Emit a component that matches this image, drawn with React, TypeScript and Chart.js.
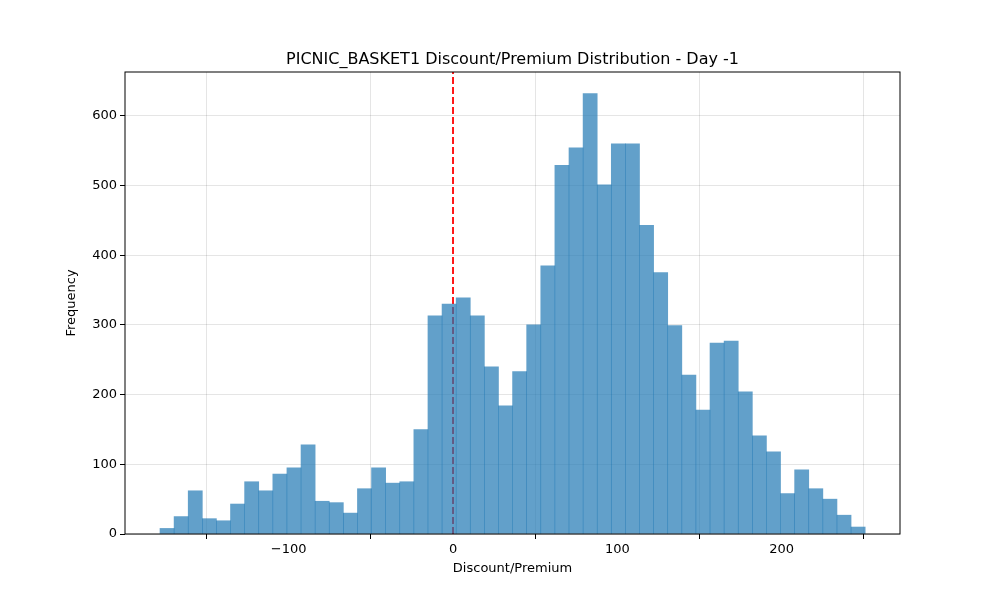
import { useEffect, useRef } from "react"
import { Chart, registerables } from "chart.js"

Chart.register(...registerables)

// histogram: 50 bins between binStart and binEnd
const binStart = -178.3
const binEnd = 250.8
const counts = [
  8, 25, 62, 22, 19, 43, 75, 62, 86, 95,
  128, 47, 45, 30, 65, 95, 73, 75, 150, 313,
  330, 339, 313, 240, 184, 233, 300, 385, 529, 554,
  632, 501, 560, 560, 443, 375, 299, 228, 178, 274,
  277, 204, 141, 118, 58, 92, 65, 50, 27, 10,
]
const xTicks = [-100, 0, 100, 200]
const yTicks = [0, 100, 200, 300, 400, 500, 600]
const titleText = "PICNIC_BASKET1 Discount/Premium Distribution - Day -1"

const FONT = "'DejaVu Sans', sans-serif"

const frame = {
  id: "frame",
  afterDraw(chart: Chart) {
    const { ctx, chartArea: a } = chart
    ctx.save()
    ctx.strokeStyle = "#000"
    ctx.lineWidth = 1
    ctx.strokeRect(a.left, a.top, a.right - a.left, a.bottom - a.top)
    ctx.fillStyle = "#000"
    ctx.font = `16px ${FONT}`
    ctx.textAlign = "center"
    ctx.textBaseline = "alphabetic"
    ctx.fillText(titleText, (a.left + a.right) / 2, a.top - 8)
    ctx.restore()
  },
}

export default function App() {
  const canvasRef = useRef<HTMLCanvasElement>(null)

  useEffect(() => {
    document.body.style.margin = "0"
    if (!canvasRef.current) return
    const w = (binEnd - binStart) / counts.length
    const bars = counts.map((c, i) => ({ x: binStart + w * (i + 0.5), y: c }))
    const tick = (v: number | string) => String(v).replace("-", "\u2212")

    const chart = new Chart(canvasRef.current, {
      type: "bar",
      data: {
        datasets: [
          {
            type: "bar",
            data: bars,
            backgroundColor: "rgba(31,119,180,0.7)",
            borderWidth: 0,
            barPercentage: 1,
            categoryPercentage: 1,
            grouped: false,
          } as any,
          {
            type: "line",
            data: [{ x: 0, y: 0 }, { x: 0, y: 663 }],
            borderColor: "#ff0000",
            borderWidth: 1.8,
            borderDash: [7, 3],
            pointRadius: 0,
          } as any,
        ],
      },
      options: {
        animation: false,
        responsive: false,
        layout: { padding: { left: 60, right: 100, top: 72, bottom: 20 } },
        plugins: { legend: { display: false }, tooltip: { enabled: false } },
        scales: {
          x: {
            type: "linear",
            min: -199.6,
            max: 272,
            offset: false,
            afterBuildTicks: (s: any) => { s.ticks = xTicks.map((v) => ({ value: v })) },
            afterFit: (s: any) => { s.height = 46 },
            ticks: { color: "#000", font: { family: FONT, size: 13 }, callback: tick, maxRotation: 0 },
            grid: { color: "rgba(0,0,0,0.1)", tickColor: "#000", tickLength: 5 },
            border: { display: false },
            title: { display: true, text: "Discount/Premium", color: "#000", font: { family: FONT, size: 13 } },
          },
          y: {
            type: "linear",
            min: 0,
            max: 663,
            afterBuildTicks: (s: any) => { s.ticks = yTicks.map((v) => ({ value: v })) },
            afterFit: (s: any) => { s.width = 65 },
            ticks: { color: "#000", font: { family: FONT, size: 13 } },
            grid: { color: "rgba(0,0,0,0.1)", tickColor: "#000", tickLength: 5 },
            border: { display: false },
            title: { display: true, text: "Frequency", color: "#000", font: { family: FONT, size: 13 } },
          },
        },
      },
      plugins: [frame],
    })
    return () => chart.destroy()
  }, [])

  return <canvas ref={canvasRef} width={1000} height={600} />
}
